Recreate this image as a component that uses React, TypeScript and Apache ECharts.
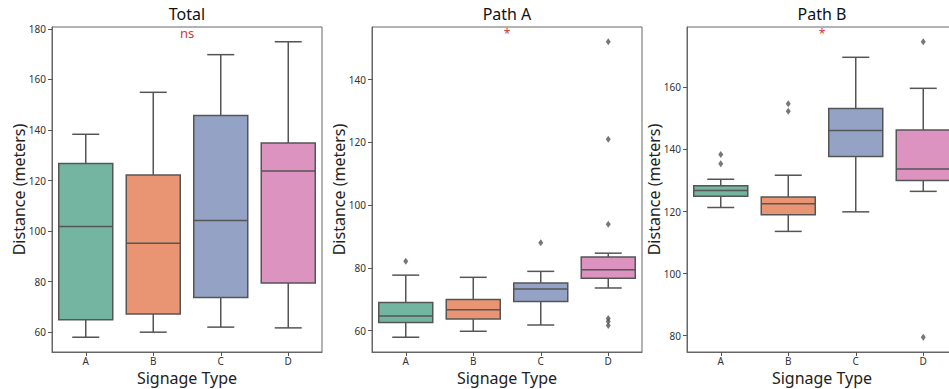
import React, { useEffect, useRef } from "react";
import * as echarts from "echarts";

const categories = ["A", "B", "C", "D"];
const panelTitles = ["Total", "Path A", "Path B"];
const significance = ["ns", "*", "*"];

// [min whisker, Q1, median, Q3, max whisker]
const totalBoxes = [
  [58.0, 64.9, 101.8, 126.7, 138.3],
  [60.0, 67.2, 95.2, 122.2, 154.9],
  [62.0, 73.7, 104.2, 145.7, 169.8],
  [61.7, 79.5, 123.8, 134.8, 174.9],
];
const totalOutliers: [string, number][] = [];

const pathABoxes = [
  [57.9, 62.6, 64.7, 69.0, 77.7],
  [59.8, 63.7, 66.7, 69.9, 77.0],
  [61.8, 69.3, 73.3, 75.2, 78.9],
  [73.6, 76.7, 79.4, 83.5, 84.7],
];
const pathAOutliers: [string, number][] = [
  ["A", 82.1],
  ["C", 88.0],
  ["D", 152.1],
  ["D", 121.0],
  ["D", 93.9],
  ["D", 63.9],
  ["D", 62.9],
  ["D", 61.6],
];

const pathBBoxes = [
  [121.3, 124.9, 126.8, 128.3, 130.4],
  [113.6, 119.0, 122.5, 124.7, 131.7],
  [119.9, 137.7, 146.1, 153.2, 169.7],
  [126.5, 130.0, 133.7, 146.3, 159.7],
];
const pathBOutliers: [string, number][] = [
  ["A", 138.4],
  ["A", 135.4],
  ["B", 154.7],
  ["B", 152.3],
  ["D", 174.7],
  ["D", 79.5],
];

const yTicksTotal = [60, 80, 100, 120, 140, 160, 180];
const yTicksA = [60, 80, 100, 120, 140];
const yTicksB = [80, 100, 120, 140, 160];

const boxColors = ["#73b5a0", "#e99573", "#94a3c5", "#dc93c0"];
const EDGE = "#555555";
const FONT = "Noto Sans";

function extentOf(boxes: number[][], outliers: [string, number][]) {
  const vals: number[] = [];
  boxes.forEach((b) => vals.push(...b));
  outliers.forEach((o) => vals.push(o[1]));
  const lo = Math.min(...vals);
  const hi = Math.max(...vals);
  const m = (hi - lo) * 0.05;
  return [lo - m, hi + m];
}

export default function App() {
  const ref = useRef<HTMLDivElement>(null);
  useEffect(() => {
    if (!ref.current) return;
    const chart = echarts.init(ref.current, undefined, { renderer: "svg" });

    const panels = [
      { boxes: totalBoxes, outliers: totalOutliers, ticks: yTicksTotal },
      { boxes: pathABoxes, outliers: pathAOutliers, ticks: yTicksA },
      { boxes: pathBBoxes, outliers: pathBOutliers, ticks: yTicksB },
    ];
    const lefts = [52, 372, 687];
    const W = 270;
    const TOP = 27;
    const H = 325;

    const grid = lefts.map((l) => ({
      left: l,
      top: TOP,
      width: W,
      height: H,
      show: true,
      borderColor: "#666",
      borderWidth: 1,
      backgroundColor: "transparent",
      containLabel: false,
      outerBoundsMode: "none",
    }));

    const xAxis = panels.map((_, i) => ({
      type: "category",
      gridIndex: i,
      data: categories,
      boundaryGap: true,
      name: "Signage Type",
      nameLocation: "middle",
      nameGap: 18,
      nameMoveOverlap: false,
      nameTextStyle: { fontFamily: FONT, fontSize: 16, lineHeight: 16, color: "#222" },
      axisLine: { show: true, lineStyle: { color: "#666", width: 1 } },
      axisTick: { show: true, alignWithLabel: true, length: 4, lineStyle: { color: "#555" } },
      axisLabel: { fontFamily: FONT, fontSize: 10, lineHeight: 10, color: "#333", margin: 4 },
      splitLine: { show: false },
    }));

    const yAxis = panels.map((p, i) => {
      const [mn, mx] = extentOf(p.boxes, p.outliers);
      return {
        type: "value",
        gridIndex: i,
        min: mn,
        max: mx,
        name: "Distance (meters)",
        nameLocation: "middle",
        nameGap: 25,
        nameMoveOverlap: false,
        nameTextStyle: { fontFamily: FONT, fontSize: 16, lineHeight: 16, color: "#222" },
        axisLine: { show: true, lineStyle: { color: "#666", width: 1 } },
        axisTick: {
          show: true,
          length: 4,
          lineStyle: { color: "#555" },
          customValues: p.ticks,
        },
        axisLabel: {
          fontFamily: FONT,
          fontSize: 10,
          color: "#333",
          margin: 6,
          customValues: p.ticks,
        },
        splitLine: { show: false },
      };
    });

    const series: any[] = [];
    panels.forEach((p, i) => {
      series.push({
        type: "custom",
        xAxisIndex: i,
        yAxisIndex: i,
        clip: false,
        encode: { x: 0, y: [1, 2, 3, 4, 5] },
        data: p.boxes.map((b, k) => [k, ...b]),
        renderItem: (params: any, api: any) => {
          const idx = api.value(0);
          const lo = api.coord([idx, api.value(1)]);
          const q1 = api.coord([idx, api.value(2)]);
          const med = api.coord([idx, api.value(3)]);
          const q3 = api.coord([idx, api.value(4)]);
          const hi = api.coord([idx, api.value(5)]);
          const band = api.size([1, 0])[0];
          const bw = band * 0.8;
          const cap = bw / 2;
          const cx = lo[0];
          const ls = { stroke: EDGE, lineWidth: 1.5, fill: "none" };
          return {
            type: "group",
            children: [
              { type: "line", shape: { x1: cx, y1: q1[1], x2: cx, y2: lo[1] }, style: ls },
              { type: "line", shape: { x1: cx, y1: q3[1], x2: cx, y2: hi[1] }, style: ls },
              { type: "line", shape: { x1: cx - cap / 2, y1: lo[1], x2: cx + cap / 2, y2: lo[1] }, style: ls },
              { type: "line", shape: { x1: cx - cap / 2, y1: hi[1], x2: cx + cap / 2, y2: hi[1] }, style: ls },
              {
                type: "rect",
                shape: { x: cx - bw / 2, y: q3[1], width: bw, height: q1[1] - q3[1] },
                style: { fill: boxColors[idx], stroke: EDGE, lineWidth: 1.5 },
              },
              { type: "line", shape: { x1: cx - bw / 2, y1: med[1], x2: cx + bw / 2, y2: med[1] }, style: ls },
            ],
          };
        },
      });
      if (p.outliers.length) {
        series.push({
          type: "scatter",
          xAxisIndex: i,
          yAxisIndex: i,
          symbol: "diamond",
          symbolSize: [5, 7],
          itemStyle: { color: EDGE },
          data: p.outliers,
        });
      }
    });

    const graphic: any[] = [];
    lefts.forEach((l, i) => {
      const isNs = significance[i] === "ns";
      graphic.push({
        type: "text",
        x: l + W / 2,
        y: 14,
        style: {
          text: panelTitles[i],
          fontFamily: FONT,
          fontSize: 16,
          lineHeight: 16,
          fill: "#111",
          textAlign: "center",
          textVerticalAlign: "middle",
        },
      });
      graphic.push({
        type: "text",
        x: l + W / 2,
        y: isNs ? 32.5 : 33,
        style: {
          text: significance[i],
          fontFamily: FONT,
          fontSize: isNs ? 13 : 12,
          lineHeight: isNs ? 12 : 8,
          fill: "#d03a36",
          textAlign: "center",
          textVerticalAlign: "middle",
        },
      });
    });

    chart.setOption({
      animation: false,
      backgroundColor: "#ffffff",
      grid,
      xAxis,
      yAxis,
      series,
      graphic,
    });
    return () => chart.dispose();
  }, []);

  return (
    <div
      ref={ref}
      style={{ position: "fixed", left: 0, top: 0, width: 949, height: 389, background: "#fff" }}
    />
  );
}
